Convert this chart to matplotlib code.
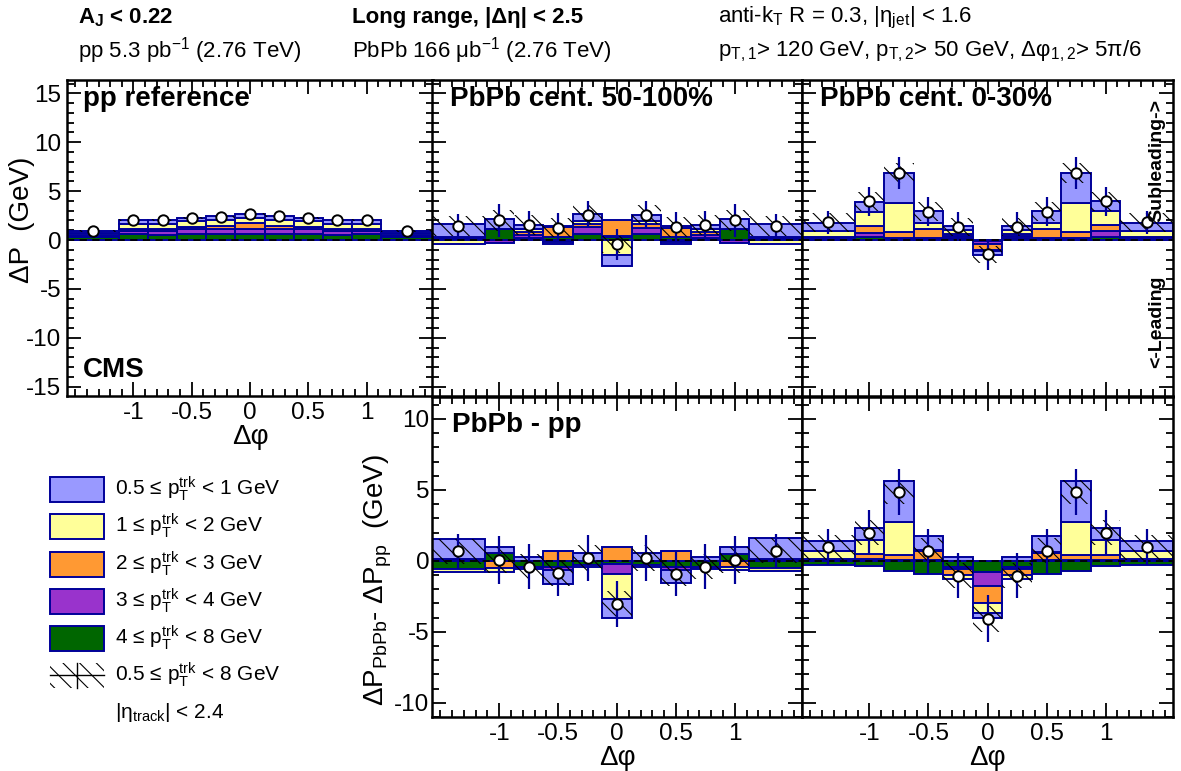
import numpy as np
import matplotlib
matplotlib.use('Agg')
import matplotlib.pyplot as plt
from matplotlib.ticker import MultipleLocator, FixedLocator, NullFormatter, FuncFormatter
from matplotlib.patches import Rectangle
from matplotlib.lines import Line2D

plt.rcParams['font.family'] = ['Liberation Sans', 'DejaVu Sans']
plt.rcParams['mathtext.fontset'] = 'custom'
plt.rcParams['mathtext.rm'] = 'Liberation Sans'
plt.rcParams['mathtext.it'] = 'Liberation Sans:italic'
plt.rcParams['mathtext.bf'] = 'Liberation Sans:bold'
plt.rcParams['hatch.linewidth'] = 0.8

# delta phi binning
edges = np.array([-np.pi / 2, -1.125, -0.875, -0.625, -0.375, -0.125,
                  0.125, 0.375, 0.625, 0.875, 1.125, np.pi / 2])
centers = (edges[:-1] + edges[1:]) / 2

### pp reference
pp_g = [0.30, 0.60, 0.55, 0.65, 0.65, 0.65, 0.65, 0.65, 0.55, 0.60, 0.30]   # 4-8 GeV
pp_p = [0.15, 0.35, 0.35, 0.50, 0.45, 0.50, 0.45, 0.50, 0.35, 0.35, 0.15]   # 3-4 GeV
pp_o = [0.10, 0.20, 0.20, 0.20, 0.35, 0.55, 0.35, 0.20, 0.20, 0.20, 0.10]   # 2-3 GeV
pp_y = [0.15, 0.50, 0.50, 0.55, 0.60, 0.50, 0.60, 0.55, 0.50, 0.50, 0.15]   # 1-2 GeV
pp_b = [0.25, 0.40, 0.40, 0.35, 0.45, 0.50, 0.45, 0.35, 0.40, 0.40, 0.25]   # 0.5-1 GeV
pp_pts = [0.9, 2.0, 2.0, 2.25, 2.4, 2.65, 2.45, 2.25, 2.0, 2.0, 0.9]
pp_err = [0.1] * 11
pp_sys = [0.1] * 11

### PbPb 50-100%
per_g = [0.10, 1.10, 0.25, 0.30, 0.60, 0.30, 0.60, 0.30, 0.25, 1.10, 0.10]
per_p = [0.15, -0.30, 0.25, -0.20, 0.70, 0.10, 0.65, -0.20, 0.25, -0.30, 0.15]
per_o = [0.05, 0.00, 0.30, 1.00, 0.35, 1.60, 0.40, 0.95, 0.30, 0.00, 0.05]
per_y = [-0.40, 0.00, 0.35, -0.25, 0.27, -1.55, 0.30, -0.25, 0.35, 0.00, -0.40]
per_b = [1.30, 1.00, 0.40, 0.15, 0.70, -1.15, 0.60, 0.15, 0.40, 1.00, 1.30]
per_pts = [1.45, 2.0, 1.55, 1.27, 2.6, -0.45, 2.6, 1.35, 1.55, 2.0, 1.45]
per_err = [1.2, 1.65, 1.4, 1.5, 1.4, 1.55, 1.4, 1.5, 1.4, 1.65, 1.2]
per_sys = [1.0, 1.1, 1.0, 1.0, 1.0, 0.9, 1.0, 1.0, 1.0, 1.1, 1.0]

### PbPb 0-30%
cen_g = [0.05, 0.35, 0.15, 0.10, 0.20, -0.10, 0.20, 0.10, 0.15, 0.30, 0.05]
cen_p = [0.10, 0.40, 0.10, 0.10, 0.20, -0.35, 0.20, 0.10, 0.10, 0.60, 0.10]
cen_o = [0.15, 0.65, 0.60, 0.90, 0.20, -0.60, 0.20, 0.90, 0.60, 0.65, 0.15]
cen_y = [0.60, 1.50, 2.95, 0.60, 0.40, -0.10, 0.40, 0.60, 2.95, 1.40, 0.60]
cen_b = [0.85, 1.00, 3.05, 1.30, 0.45, -0.35, 0.45, 1.30, 3.05, 1.00, 0.85]
cen_pts = [1.8, 3.95, 6.85, 2.9, 1.35, -1.48, 1.35, 2.9, 6.85, 3.95, 1.8]
cen_err = [1.2, 1.5, 1.6, 1.5, 1.5, 1.6, 1.5, 1.5, 1.6, 1.5, 1.2]
cen_sys = [1.0, 1.0, 1.0, 1.0, 0.9, 0.9, 0.9, 1.0, 1.0, 1.0, 1.0]

### PbPb - pp, 50-100%
dper_g = [-0.55, 0.55, -0.40, -0.40, -0.30, -0.20, -0.30, -0.40, -0.40, 0.50, -0.50]
dper_p = [0.10, 0.00, -0.20, -0.25, 0.00, -0.70, 0.00, -0.25, -0.15, 0.00, 0.10]
dper_o = [0.00, -0.50, 0.00, 0.70, 0.00, 0.95, 0.00, 0.70, 0.00, -0.45, 0.00]
dper_y = [-0.20, -0.30, 0.00, 0.00, -0.10, -1.80, -0.10, 0.00, 0.00, -0.20, -0.20]
dper_b = [1.45, 0.40, 0.30, -0.95, 0.55, -1.35, 0.55, -0.90, 0.30, 0.45, 1.50]
dper_pts = [0.67, 0.08, -0.4, -0.87, 0.2, -3.05, 0.2, -0.9, -0.4, 0.08, 0.72]
dper_err = [1.2, 1.7, 1.6, 1.6, 1.6, 1.6, 1.6, 1.6, 1.6, 1.7, 1.2]
dper_sys = [0.9, 0.9, 0.9, 0.9, 0.9, 0.9, 0.9, 0.9, 0.9, 0.9, 0.9]

### PbPb - pp, 0-30%
dcen_g = [-0.30, -0.35, -0.70, -0.95, -0.45, -0.75, -0.45, -0.95, -0.70, -0.35, -0.30]
dcen_p = [0.05, 0.10, 0.05, 0.05, -0.15, -1.00, -0.15, 0.05, 0.05, 0.05, 0.05]
dcen_o = [0.05, 0.40, 0.35, 0.65, -0.40, -1.20, -0.40, 0.50, 0.35, 0.35, 0.05]
dcen_y = [0.60, 1.00, 2.35, 0.05, -0.30, -0.75, -0.30, 0.05, 2.35, 1.05, 0.60]
dcen_b = [0.70, 0.85, 2.85, 1.00, 0.30, -0.30, 0.30, 1.15, 2.85, 0.90, 0.70]
dcen_pts = [0.96, 2.0, 4.85, 0.72, -1.03, -4.08, -1.03, 0.72, 4.85, 2.0, 0.96]
dcen_err = [1.27, 1.6, 1.6, 1.55, 1.6, 1.65, 1.6, 1.55, 1.6, 1.6, 1.27]
dcen_sys = [0.9, 0.9, 0.85, 0.9, 0.9, 0.9, 0.9, 0.9, 0.85, 0.9, 0.9]

# colours, stacked from zero outwards: 4-8, 3-4, 2-3, 1-2, 0.5-1 GeV
navy = '#000099'
colors = ['#006600', '#9933cc', '#ff9933', '#ffff99', '#9999ff']
leg_labels = [r'0.5 ≤ p$_{\mathrm{T}}^{\mathrm{trk}}$ < 1 GeV',
              r'1 ≤ p$_{\mathrm{T}}^{\mathrm{trk}}$ < 2 GeV',
              r'2 ≤ p$_{\mathrm{T}}^{\mathrm{trk}}$ < 3 GeV',
              r'3 ≤ p$_{\mathrm{T}}^{\mathrm{trk}}$ < 4 GeV',
              r'4 ≤ p$_{\mathrm{T}}^{\mathrm{trk}}$ < 8 GeV',
              r'0.5 ≤ p$_{\mathrm{T}}^{\mathrm{trk}}$ < 8 GeV']

W, H = 1181, 771
fig = plt.figure(figsize=(W / 100, H / 100), dpi=100)


def px_axes(l, t, r, b):
    return fig.add_axes([l / W, 1 - b / H, (r - l) / W, (b - t) / H])


def ftext(x, y, s, **kw):
    fig.text(x / W, 1 - y / H, s, **kw)


def draw_panel(ax, comps, pts, err, sys, ylim):
    pos = np.zeros(len(centers))
    neg = np.zeros(len(centers))
    for vals, col in zip(comps, colors):
        vals = np.asarray(vals, dtype=float)
        base = np.where(vals >= 0, pos, neg)
        ax.bar(edges[:-1], vals, width=np.diff(edges), bottom=base, align='edge',
               color=col, edgecolor=navy, lw=1.4, zorder=2)
        pos = pos + np.clip(vals, 0, None)
        neg = neg + np.clip(vals, None, 0)
    pts = np.asarray(pts)
    sys = np.asarray(sys)
    ax.bar(edges[:-1], 2 * sys, width=np.diff(edges), bottom=pts - sys, align='edge',
           fill=False, hatch='\\\\', edgecolor='black', lw=0, zorder=3)
    ax.axhline(0, color='black', lw=1.3, ls=(0, (4, 3)), zorder=3.5)
    ax.errorbar(centers, pts, yerr=err, fmt='o', ms=7.5, mfc='white', mec='black',
                mew=1.4, ecolor=navy, elinewidth=1.6, capsize=0, zorder=5)
    ax.set_xlim(-np.pi / 2, np.pi / 2)
    ax.set_ylim(*ylim)
    ax.xaxis.set_major_locator(FixedLocator([-1, -0.5, 0, 0.5, 1]))
    ax.xaxis.set_minor_locator(MultipleLocator(0.1))
    ax.yaxis.set_major_locator(MultipleLocator(5))
    ax.yaxis.set_minor_locator(MultipleLocator(1))
    ax.tick_params(which='both', direction='in', top=True, right=True, width=1.3,
                   labelsize=17.5, pad=4)
    ax.tick_params(which='major', length=10)
    ax.tick_params(which='minor', length=5)
    ax.xaxis.set_major_formatter(FuncFormatter(lambda v, p: f'{v:g}'))
    ax.yaxis.set_major_formatter(FuncFormatter(lambda v, p: f'{v:g}'))
    for s in ax.spines.values():
        s.set_linewidth(1.8)


top_ylim = (-15.95, 16.36)
bot_ylim = (-11.0, 11.55)

ax1 = px_axes(67, 80, 433, 396)
draw_panel(ax1, [pp_g, pp_p, pp_o, pp_y, pp_b], pp_pts, pp_err, pp_sys, top_ylim)
ax1.set_xlabel('Δφ', fontsize=20, labelpad=0)

ax2 = px_axes(432, 80, 802, 396)
draw_panel(ax2, [per_g, per_p, per_o, per_y, per_b], per_pts, per_err, per_sys, top_ylim)
ax2.tick_params(labelleft=False, labelbottom=False)

ax3 = px_axes(802, 80, 1173, 396)
draw_panel(ax3, [cen_g, cen_p, cen_o, cen_y, cen_b], cen_pts, cen_err, cen_sys, top_ylim)
ax3.tick_params(labelleft=False, labelbottom=False)

ax4 = px_axes(432, 397, 802, 717)
draw_panel(ax4, [dper_g, dper_p, dper_o, dper_y, dper_b], dper_pts, dper_err, dper_sys, bot_ylim)
ax4.set_xlabel('Δφ', fontsize=20, labelpad=0)
ax4.tick_params(axis='y', pad=2)

ax5 = px_axes(802, 397, 1173, 717)
draw_panel(ax5, [dcen_g, dcen_p, dcen_o, dcen_y, dcen_b], dcen_pts, dcen_err, dcen_sys, bot_ylim)
ax5.tick_params(labelleft=False)
ax5.set_xlabel('Δφ', fontsize=20, labelpad=0)

# panel titles
ftext(83, 99, 'pp reference', fontsize=20, fontweight='bold', va='center')
ftext(83, 370, 'CMS', fontsize=20, fontweight='bold', va='center')
ftext(450, 99, 'PbPb cent. 50-100%', fontsize=20, fontweight='bold', va='center')
ftext(820, 99, 'PbPb cent. 0-30%', fontsize=20, fontweight='bold', va='center')
ftext(452, 425, 'PbPb - pp', fontsize=20, fontweight='bold', va='center')
ftext(1157, 160, 'Subleading->', fontsize=14, fontweight='bold', rotation=90,
      ha='center', va='center')
ftext(1157, 322, '<-Leading', fontsize=14, fontweight='bold', rotation=90,
      ha='center', va='center')

# axis titles
ftext(22, 220, 'ΔP  (GeV)', fontsize=20, rotation=90, ha='center', va='center')
ftext(378, 580, r'ΔP$_{\mathrm{PbPb}}$- ΔP$_{\mathrm{pp}}$  (GeV)', fontsize=20,
      rotation=90, ha='center', va='center')

# header
ftext(78, 18, r'A$_{\mathbf{J}}$ < 0.22', fontsize=16, fontweight='bold', va='center')
ftext(78, 51, r'pp 5.3 pb$^{-1}$ (2.76 TeV)', fontsize=16, va='center')
ftext(352, 18, 'Long range, |Δη| < 2.5', fontsize=16, fontweight='bold', va='center')
ftext(352, 51, r'PbPb 166 μb$^{-1}$ (2.76 TeV)', fontsize=16, va='center')
ftext(718, 18, r'anti-k$_{\mathrm{T}}$ R = 0.3, |η$_{\mathrm{jet}}$| < 1.6', fontsize=16,
      va='center')
ftext(718, 51, r'p$_{\mathrm{T,1}}$> 120 GeV, p$_{\mathrm{T,2}}$> 50 GeV, '
      r'Δφ$_{\mathrm{1,2}}$> 5π/6', fontsize=16, va='center')

# legend
lax = px_axes(0, 440, 360, 771)
lax.set_xlim(0, 360)
lax.set_ylim(331, 0)
lax.axis('off')
row_y = [489, 526, 564, 601, 638, 675]
leg_fill = colors[::-1]
for i, (yc, lab) in enumerate(zip(row_y, leg_labels)):
    y0 = yc - 440 - 12.5
    if i < 5:
        lax.add_patch(Rectangle((50, y0), 54, 25, facecolor=leg_fill[i], edgecolor=navy, lw=1.4))
    else:
        lax.add_patch(Rectangle((50, y0), 54, 25, fill=False, hatch='\\\\', edgecolor='black', lw=0))
        lax.add_line(Line2D([50, 104], [yc - 440, yc - 440], color='black', lw=1))
        lax.add_line(Line2D([77, 77], [y0, y0 + 25], color='black', lw=1))
    lax.text(115, yc - 440, lab, fontsize=15, va='center')
lax.text(115, 713 - 440, r'|η$_{\mathrm{track}}$| < 2.4', fontsize=15, va='center')

fig.savefig('out.png', dpi=100)
